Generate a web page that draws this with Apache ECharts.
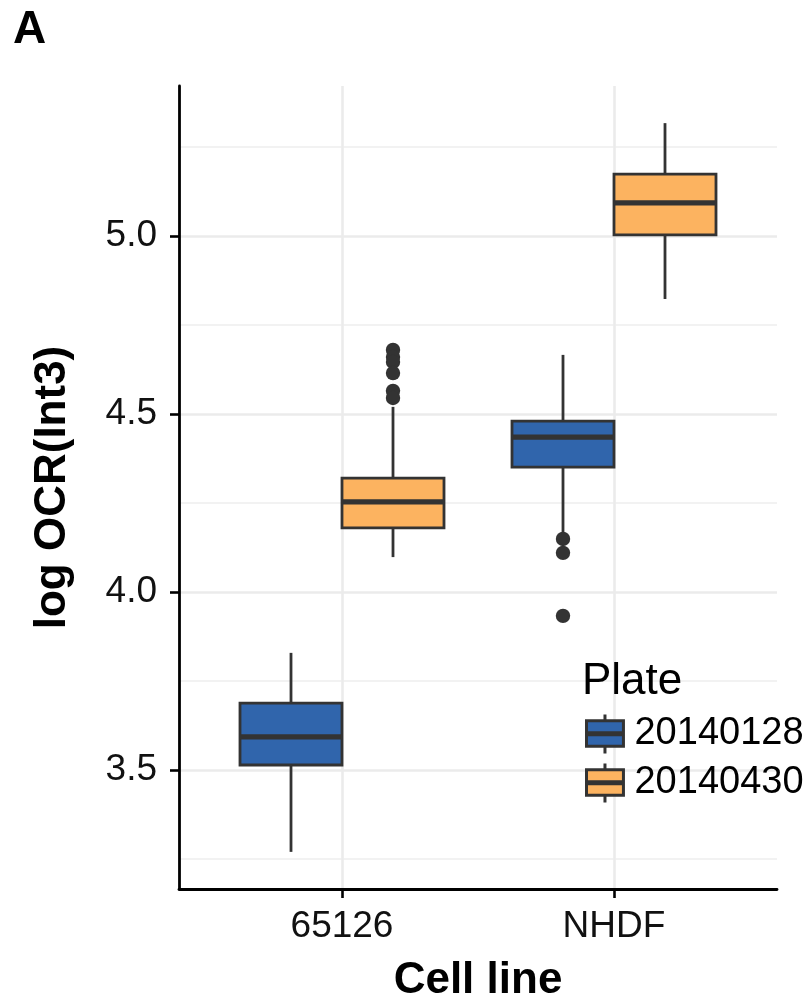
<!DOCTYPE html>
<html>
<head>
<meta charset="utf-8">
<script src="https://cdn.jsdelivr.net/npm/echarts@6/dist/echarts.min.js"></script>
<style>
html,body{margin:0;padding:0;background:#fff;}
#chart{width:811px;height:1000px;}
</style>
</head>
<body>
<div id="chart"></div>
<script>
// ---- data ----
const categories = ['65126', 'NHDF'];
const plates = ['20140128', '20140430'];
// [category index, lower whisker, Q1, median, Q3, upper whisker]
const boxes20140128 = [[0, 3.270, 3.514, 3.593, 3.688, 3.829], [1, 4.160, 4.351, 4.435, 4.480, 4.666]];
const boxes20140430 = [[0, 4.098, 4.180, 4.253, 4.320, 4.520], [1, 4.823, 5.003, 5.093, 5.174, 5.317]];
// [category index, value]
const outliers20140128 = [[1, 4.149], [1, 4.110], [1, 3.933]];
const outliers20140430 = [[0, 4.680], [0, 4.660], [0, 4.646], [0, 4.615], [0, 4.565], [0, 4.545]];
const yTickLabels = ['3.5', '4.0', '4.5', '5.0'];
const yRange = [3.1657, 5.4213];

const FONT = '"Liberation Sans", Arial, Helvetica, sans-serif';
const plateColors = ['#3065AC', '#FCB360'];
const EDGE = '#333333';
const BOX_FRAC = 0.375;   // box width as share of category band
const DODGE = 0.1875;     // box centre offset as share of band

function boxRender(off, fill) {
  return function (params, api) {
    const cat = api.value(0);
    const band = api.size([1, 0])[0];
    const w = band * BOX_FRAC;
    const lo = api.coord([cat, api.value(1)]);
    const q1 = api.coord([cat, api.value(2)]);
    const md = api.coord([cat, api.value(3)]);
    const q3 = api.coord([cat, api.value(4)]);
    const hi = api.coord([cat, api.value(5)]);
    const cx = lo[0] + off * band;
    return {
      type: 'group',
      children: [
        { type: 'line', shape: { x1: cx, y1: hi[1], x2: cx, y2: q3[1] }, style: { stroke: EDGE, lineWidth: 2.8 } },
        { type: 'line', shape: { x1: cx, y1: q1[1], x2: cx, y2: lo[1] }, style: { stroke: EDGE, lineWidth: 2.8 } },
        { type: 'rect', shape: { x: cx - w / 2, y: q3[1], width: w, height: q1[1] - q3[1] }, style: { fill: fill, stroke: EDGE, lineWidth: 2.8 } },
        { type: 'line', shape: { x1: cx - w / 2, y1: md[1], x2: cx + w / 2, y2: md[1] }, style: { stroke: EDGE, lineWidth: 5.2 } }
      ]
    };
  };
}
function outlierRender(off) {
  return function (params, api) {
    const p = api.coord([api.value(0), api.value(1)]);
    const band = api.size([1, 0])[0];
    return { type: 'circle', shape: { cx: p[0] + off * band, cy: p[1], r: 7.2 }, style: { fill: EDGE } };
  };
}

const legendIcon = 'path://M18,0L18,6M0,6L36,6L36,31L0,31ZM0,17.8L36,17.8L36,19.8L0,19.8ZM18,31L18,38';

const chart = echarts.init(document.getElementById('chart'), null, { renderer: 'canvas' });
chart.setOption({
  animation: false,
  backgroundColor: '#ffffff',
  textStyle: { fontFamily: FONT },
  title: [
    { text: 'A', left: 13, top: 7, padding: 0, textStyle: { fontFamily: FONT, fontSize: 46, fontWeight: 'bold', color: '#000' } },
    { text: 'Plate', left: 582, top: 660, padding: 0, textStyle: { fontFamily: FONT, fontSize: 44, fontWeight: 'normal', color: '#000' } }
  ],
  legend: {
    data: plates,
    orient: 'vertical',
    left: 585,
    top: 713,
    padding: 0,
    itemWidth: 37,
    itemHeight: 39,
    itemGap: 7,
    selectedMode: false,
    icon: legendIcon,
    itemStyle: { borderColor: EDGE, borderWidth: 3 },
    textStyle: { fontFamily: FONT, fontSize: 38, color: '#000', padding: [0, 0, 0, 6] }
  },
  grid: [
    { left: 179, right: 34, top: 86, bottom: 111, outerBoundsMode: 'none', containLabel: false },   // frame (axis lines)
    { left: 179, right: 34, top: 236, bottom: 230, outerBoundsMode: 'none', containLabel: false },  // major y grid, ticks, labels
    { left: 179, right: 34, top: 147, bottom: 141, outerBoundsMode: 'none', containLabel: false },  // minor y grid
    { left: 206, right: 61, top: 86, bottom: 111, outerBoundsMode: 'none', containLabel: false }    // data grid (category axis)
  ],
  xAxis: [
    { gridIndex: 0, type: 'value', min: 0, max: 1, axisLine: { show: true, lineStyle: { color: '#000', width: 2.8 } }, axisTick: { show: false }, axisLabel: { show: false }, splitLine: { show: false }, z: 5 },
    { gridIndex: 1, type: 'value', min: 0, max: 1, show: false },
    { gridIndex: 2, type: 'value', min: 0, max: 1, show: false },
    {
      gridIndex: 3, type: 'category', data: categories, boundaryGap: true,
      axisLine: { show: false },
      axisTick: { show: true, alignWithLabel: true, length: 9, lineStyle: { color: '#000', width: 2.6 } },
      axisLabel: { fontFamily: FONT, fontSize: 37, color: '#111', margin: 19 },
      splitLine: { show: true, alignWithLabel: true, lineStyle: { color: '#EBEBEB', width: 2.6 } },
      name: 'Cell line', nameLocation: 'middle', nameGap: 70,
      nameTextStyle: { fontFamily: FONT, fontSize: 44, fontWeight: 'bold', color: '#000' }
    }
  ],
  yAxis: [
    {
      gridIndex: 0, type: 'value', min: yRange[0], max: yRange[1],
      axisLine: { show: true, lineStyle: { color: '#000', width: 2.8 } },
      axisTick: { show: false }, axisLabel: { show: false }, splitLine: { show: false },
      name: 'log OCR(Int3)', nameLocation: 'middle', nameGap: 104,
      nameTextStyle: { fontFamily: FONT, fontSize: 44, fontWeight: 'bold', color: '#000' },
      z: 5
    },
    {
      gridIndex: 1, type: 'value', min: 3.5, max: 5.0, interval: 0.5,
      axisLine: { show: false },
      axisTick: { show: true, length: 9, lineStyle: { color: '#000', width: 2.6 } },
      axisLabel: { fontFamily: FONT, fontSize: 37, color: '#111', margin: 22, formatter: function (v, i) { return yTickLabels[i]; } },
      splitLine: { show: true, lineStyle: { color: '#EBEBEB', width: 2.6 } }
    },
    {
      gridIndex: 2, type: 'value', min: 3.25, max: 5.25, interval: 0.25,
      axisLine: { show: false }, axisTick: { show: false }, axisLabel: { show: false },
      splitLine: { show: true, lineStyle: { color: ['#EEEEEE', 'rgba(0,0,0,0)'], width: 1.5 } }
    },
    { gridIndex: 3, type: 'value', min: yRange[0], max: yRange[1], show: false }
  ],
  series: [
    { name: plates[0], type: 'custom', xAxisIndex: 3, yAxisIndex: 3, itemStyle: { color: plateColors[0] }, encode: { x: 0, y: [1, 2, 3, 4, 5] }, data: boxes20140128, renderItem: boxRender(-DODGE, plateColors[0]), z: 3 },
    { name: plates[1], type: 'custom', xAxisIndex: 3, yAxisIndex: 3, itemStyle: { color: plateColors[1] }, encode: { x: 0, y: [1, 2, 3, 4, 5] }, data: boxes20140430, renderItem: boxRender(DODGE, plateColors[1]), z: 3 },
    { name: plates[0], type: 'custom', xAxisIndex: 3, yAxisIndex: 3, itemStyle: { color: EDGE }, encode: { x: 0, y: 1 }, data: outliers20140128, renderItem: outlierRender(-DODGE), z: 4 },
    { name: plates[1], type: 'custom', xAxisIndex: 3, yAxisIndex: 3, itemStyle: { color: EDGE }, encode: { x: 0, y: 1 }, data: outliers20140430, renderItem: outlierRender(DODGE), z: 4 }
  ]
});
</script>
</body>
</html>
